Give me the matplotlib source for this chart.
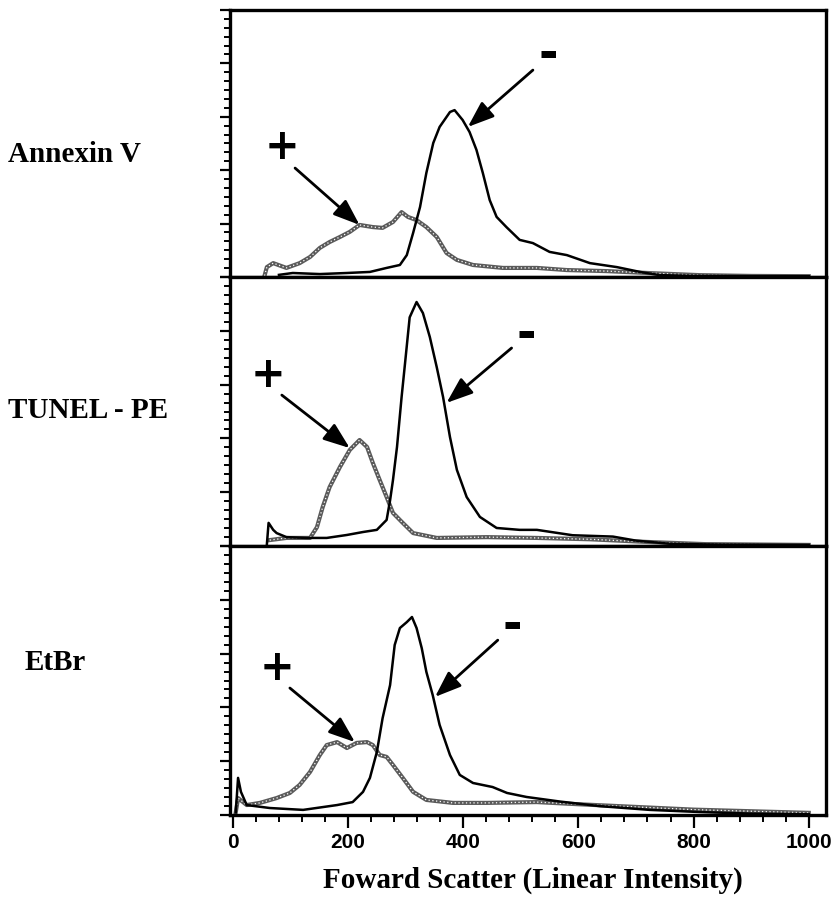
import numpy as np
import matplotlib.pyplot as plt
from matplotlib.ticker import MultipleLocator

# forward scatter channel values and relative counts for each stain
# "-" = stain negative population (solid), "+" = stain positive (hatched)
annexin_neg_x = [80, 104, 151, 198, 238, 267, 290, 302, 313, 325, 336, 348, 359, 377, 385, 399, 411,
                 423, 434, 446, 458, 475, 498, 521, 550, 580, 620, 667, 707, 741, 800, 900, 1000]
annexin_neg_y = [0.8, 1.5, 1.1, 1.5, 1.9, 3.4, 4.5, 8.2, 16.5, 26.2, 39.0, 50.2, 56.2, 61.8, 62.5, 58.8, 54.3,
                 47.6, 39.0, 28.8, 22.5, 18.7, 13.9, 12.7, 9.4, 8.2, 5.2, 3.7, 1.9, 0.7, 0.4, 0.3, 0.3]
annexin_pos_x = [55, 59, 70, 93, 116, 134, 151, 168, 186, 203, 220, 243, 260, 278, 293, 304, 319, 336,
                 354, 371, 389, 417, 469, 528, 580, 650, 720, 810, 900, 1000]
annexin_pos_y = [0.5, 3.7, 5.2, 3.4, 5.2, 7.5, 10.9, 13.1, 15.0, 16.9, 19.5, 18.7, 18.4, 20.6, 24.3, 22.5, 21.3, 18.7,
                 15.0, 9.0, 6.4, 4.5, 3.4, 3.4, 2.6, 2.2, 1.5, 0.7, 0.4, 0.3]

tunel_neg_x = [59, 62, 70, 76, 93, 128, 163, 198, 226, 250, 267, 273, 278, 285, 293, 299, 307, 319, 330,
               342, 354, 365, 377, 389, 406, 429, 458, 498, 528, 590, 660, 700, 760, 850, 1000]
tunel_neg_y = [0.5, 8.6, 6.0, 4.8, 3.3, 3.0, 3.0, 4.1, 5.2, 6.0, 9.7, 17.0, 24.5, 36.8, 55.4, 68.0, 85.0, 90.7, 86.6,
               77.7, 66.5, 55.4, 40.5, 28.3, 18.2, 10.8, 6.7, 6.0, 6.0, 4.0, 3.5, 2.0, 0.8, 0.5, 0.4]
tunel_pos_x = [64, 93, 134, 146, 156, 168, 186, 203, 220, 233, 243, 255, 267, 278, 295, 313, 354, 441,
               528, 620, 720, 820, 1000]
tunel_pos_y = [2.2, 3.0, 3.0, 7.0, 14.5, 21.9, 29.4, 35.7, 39.4, 36.8, 30.9, 24.5, 18.2, 12.3, 8.6, 4.8, 3.0, 3.3,
               3.0, 2.5, 1.5, 0.7, 0.4]

etbr_neg_x = [5, 9, 14, 24, 64, 122, 181, 208, 226, 238, 250, 260, 273, 281, 290, 302, 311, 319, 328,
              336, 347, 359, 377, 394, 417, 451, 476, 510, 568, 637, 724, 811, 900, 1000]
etbr_neg_y = [1.0, 13.8, 8.6, 3.7, 2.6, 1.9, 3.7, 4.8, 8.6, 13.8, 23.4, 36.0, 48.3, 63.2, 69.5, 71.7, 73.6, 69.5, 62.0,
              53.2, 44.6, 33.5, 22.3, 14.9, 11.9, 10.4, 8.2, 6.7, 5.0, 3.3, 1.9, 1.1, 0.5, 0.3]
etbr_pos_x = [5, 9, 24, 47, 76, 99, 116, 134, 151, 163, 181, 198, 215, 233, 243, 255, 267, 278, 295,
              313, 336, 382, 441, 528, 600, 700, 800, 1000]
etbr_pos_y = [1.0, 6.3, 3.7, 4.5, 6.3, 8.2, 11.2, 16.0, 22.3, 26.0, 27.1, 24.9, 26.8, 27.1, 26.0, 22.3, 21.6, 18.6, 13.8,
              8.6, 5.6, 4.5, 4.5, 4.8, 4.0, 3.0, 2.0, 0.8]

stains = ['Annexin V', 'TUNEL - PE', 'EtBr']
x_ticks = [0, 200, 400, 600, 800, 1000]

panels = [
    (annexin_neg_x, annexin_neg_y, annexin_pos_x, annexin_pos_y),
    (tunel_neg_x, tunel_neg_y, tunel_pos_x, tunel_pos_y),
    (etbr_neg_x, etbr_neg_y, etbr_pos_x, etbr_pos_y),
]

# arrow placement per panel: (label xy, tail xy, tip xy) for "+" and "-"
plus_arrows = [((85, 48.7), (108, 40.8), (220, 19.5)),
               ((61, 63.6), (85, 56.1), (203, 36.4)),
               ((76, 54.6), (99, 47.2), (212, 27.1))]
minus_arrows = [((547, 83.1), (521, 77.5), (408, 56.2)),
                ((510, 78.4), (484, 73.6), (371, 53.2)),
                ((486, 69.9), (460, 65.0), (351, 43.9))]
label_pos = [(8, 155), (8, 410), (25, 663)]

serif = ['Liberation Serif', 'DejaVu Serif']
sans = ['Liberation Sans', 'DejaVu Sans']

W, H = 836, 911
fig = plt.figure(figsize=(W / 100, H / 100), dpi=100)

edges = [10, 277, 546, 815]
left, right = 230, 826
axes = []
for i in range(3):
    top, bot = edges[i], edges[i + 1]
    ax = fig.add_axes([left / W, 1 - bot / H, (right - left) / W, (bot - top) / H])
    axes.append(ax)

for i, ax in enumerate(axes):
    nx, ny, px, py = panels[i]
    # stain-positive trace: grey checkered look
    ax.plot(px, py, color='#5a5a5a', lw=3.0, zorder=2)
    ax.plot(px, py, color='white', lw=0.9, ls=(0, (1, 2)), zorder=3)
    ax.plot(nx, ny, color='black', lw=1.8, zorder=4)

    ax.set_xlim(-5, 1030)
    ax.set_ylim(0, 100)
    for s in ax.spines.values():
        s.set_linewidth(2.4)

    ax.yaxis.set_major_locator(MultipleLocator(20))
    ax.yaxis.set_minor_locator(MultipleLocator(20 / 6))
    ax.tick_params(axis='y', which='major', direction='out', length=7, width=1.6, labelleft=False)
    ax.tick_params(axis='y', which='minor', direction='out', length=4, width=1.4)

    if i < 2:
        ax.set_xticks([])
    else:
        ax.set_xticks(x_ticks)
        ax.xaxis.set_minor_locator(MultipleLocator(40))
        ax.tick_params(axis='x', which='major', direction='out', length=9, width=1.6, pad=4)
        ax.tick_params(axis='x', which='minor', direction='out', length=5, width=1.4)
        for t in ax.get_xticklabels():
            t.set_family(sans)
            t.set_fontweight('bold')
            t.set_fontsize(15)

    (lp, tail, tip) = plus_arrows[i]
    ax.text(lp[0], lp[1], '+', fontsize=30, fontweight='bold', ha='center', va='center')
    ax.annotate('', xy=tip, xytext=tail,
                arrowprops=dict(arrowstyle='-|>,head_length=0.8,head_width=0.3',
                                mutation_scale=20, lw=2, color='black', shrinkA=0, shrinkB=0))
    (lm, tail, tip) = minus_arrows[i]
    ax.text(lm[0], lm[1], '-', fontsize=34, fontweight='bold', ha='center', va='center')
    ax.annotate('', xy=tip, xytext=tail,
                arrowprops=dict(arrowstyle='-|>,head_length=0.8,head_width=0.3',
                                mutation_scale=20, lw=2, color='black', shrinkA=0, shrinkB=0))

    lx, ly = label_pos[i]
    fig.text(lx / W, 1 - ly / H, stains[i], family=serif, fontweight='bold',
             fontsize=21, ha='left', va='center')

fig.text(533 / W, 1 - 880 / H, 'Foward Scatter (Linear Intensity)', family=serif,
         fontweight='bold', fontsize=21, ha='center', va='center')

fig.savefig('out.png', dpi=100, facecolor='white')
